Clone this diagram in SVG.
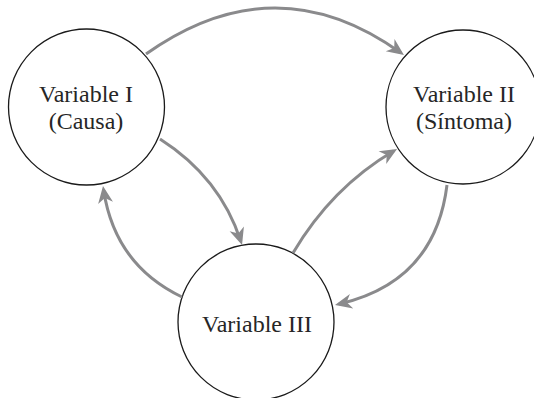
<svg xmlns="http://www.w3.org/2000/svg" width="534" height="398" viewBox="0 0 534 398">
  <style>
    .node circle { fill: #ffffff; stroke: #1a1a1a; stroke-width: 1.3; }
    .node text { font-family: "Liberation Serif", "DejaVu Serif", serif; font-size: 24px; fill: #262626; text-anchor: middle; }
    .edge { fill: none; stroke: #8a8a8c; stroke-width: 3; }
  </style>
  <defs>
    <marker id="head" markerUnits="userSpaceOnUse" markerWidth="22" markerHeight="18" viewBox="-14 -9 22 18" refX="0" refY="0" orient="auto">
      <path d="M4,0 L-13,-7.5 L-8,0 L-13,7.5 Z" fill="#8a8a8c"/>
    </marker>
  </defs>

  <rect width="534" height="398" fill="#ffffff"/>

  <g id="nodes">
    <g id="var1" class="node">
      <circle cx="86.5" cy="107" r="78"/>
      <text x="86" y="102">Variable I</text>
      <text x="86" y="129">(Causa)</text>
    </g>
    <g id="var2" class="node">
      <circle cx="463" cy="107" r="77"/>
      <text x="464" y="102">Variable II</text>
      <text x="464" y="129">(Síntoma)</text>
    </g>
    <g id="var3" class="node">
      <circle cx="256" cy="322" r="78"/>
      <text x="257" y="332">Variable III</text>
    </g>
  </g>

  <g id="connectors">
    <!-- I -> II -->
    <path class="edge" d="M146,54 Q275,-37.5 400.7,52.7" marker-end="url(#head)"/>
    <!-- I -> III -->
    <path class="edge" d="M160,139 Q220,177.3 240.8,241.2" marker-end="url(#head)"/>
    <!-- III -> II -->
    <path class="edge" d="M293,253 Q331.6,187.6 393.6,151" marker-end="url(#head)"/>
    <!-- II -> III -->
    <path class="edge" d="M447,185 Q435,282 338.9,304.1" marker-end="url(#head)"/>
    <!-- III -> I -->
    <path class="edge" d="M182,297 Q115,265 103.6,190" marker-end="url(#head)"/>
  </g>
</svg>
